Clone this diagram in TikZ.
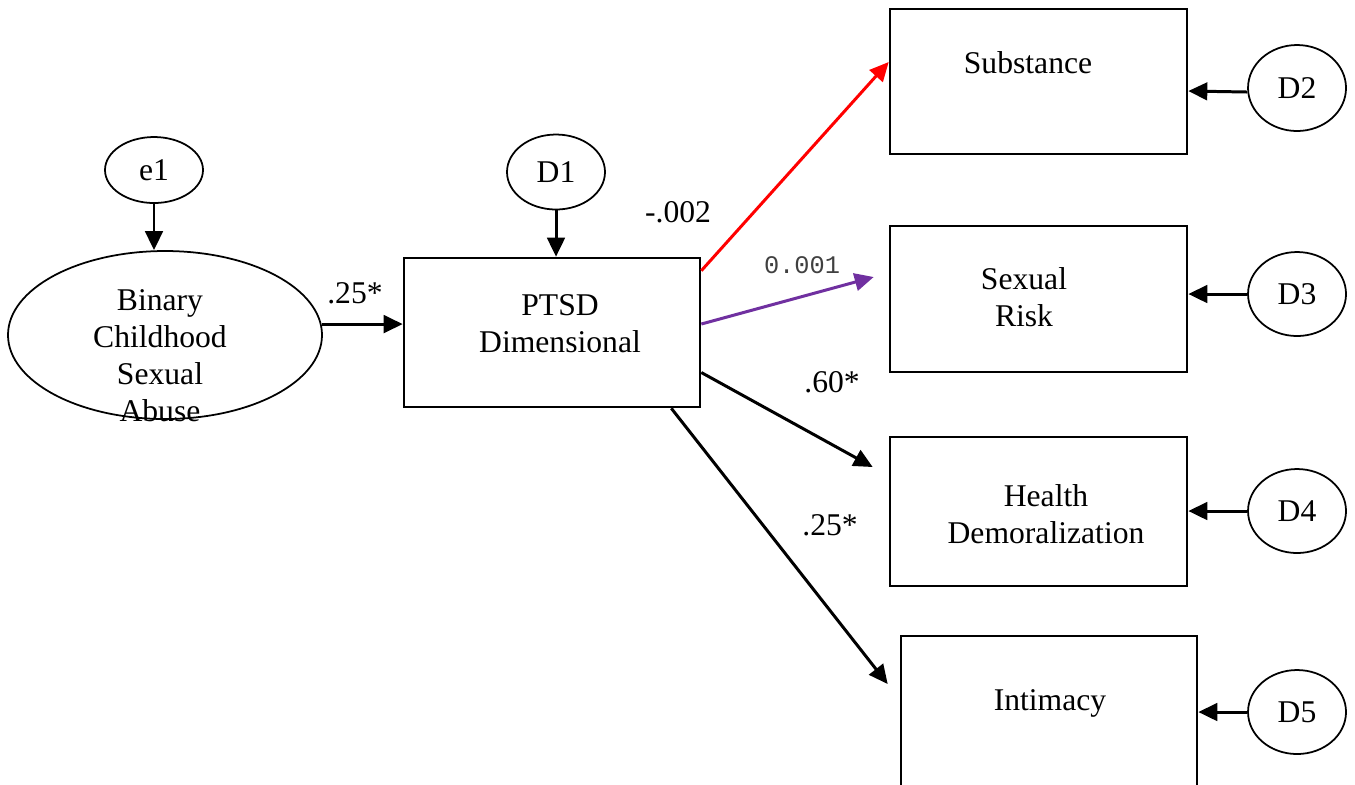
\documentclass[tikz,border=0pt]{standalone}
\usepackage{fontspec}
\setmainfont{Liberation Serif}
\setmonofont{Liberation Mono}
\usetikzlibrary{arrows.meta, shapes.geometric, calc}
\definecolor{cred}{HTML}{FF0000}
\definecolor{cpurple}{HTML}{7030A0}
\definecolor{cgrey}{HTML}{404040}
\tikzset{
  every picture/.style={line width=0.5pt},
  every node/.style={font=\fontsize{9}{10.5}\selectfont},
  box/.style={draw, rectangle, line width=0.75pt, minimum width=2.97cm, minimum height=1.46cm, inner sep=0pt},
  resid/.style={draw, ellipse, minimum width=0.98cm, minimum height=0.84cm, inner sep=0pt},
  arrow/.style={-{Triangle[length=5.4pt, width=5pt]}, line width=0.85pt},
  txt/.style={align=center, inner sep=0pt},
  coef/.style={inner sep=0pt},
}

\begin{document}
\begin{tikzpicture}
  \useasboundingbox (0,0) rectangle (13.55,-7.84);
  % predictor and mediator
  \node[draw, ellipse, minimum width=3.14cm, minimum height=1.68cm, inner sep=0pt] (csa) at (1.65,-3.35) {};
  \node[txt] (csat) at (1.60,-3.56) {Binary\\Childhood\\Sexual\\Abuse};
  \node[resid, minimum height=0.66cm] (e1) at (1.54,-1.70) {e1};
  \node[box, minimum width=2.96cm, minimum height=1.49cm] (ptsd) at (5.52,-3.325) {};
  \node[txt] (ptsdt) at (5.60,-3.24) {PTSD\\Dimensional};
  \node[resid, minimum height=0.75cm] (d1) at (5.56,-1.72) {D1};
  % the four outcomes, each with its disturbance
  \node[box, minimum height=1.45cm] (sub) at (10.385,-0.815) {};
  \node[txt] (subt) at (10.28,-0.63) {Substance};
  \node[box] (risk) at (10.385,-2.99) {};
  \node[txt] (riskt) at (10.24,-2.97) {Sexual\\Risk};
  \node[box, minimum height=1.49cm] (health) at (10.385,-5.115) {};
  \node[txt] (healtht) at (10.46,-5.14) {Health\\Demoralization};
  \node[box, minimum width=2.96cm, minimum height=1.54cm] (intim) at (10.49,-7.13) {};
  \node[txt] (intimt) at (10.50,-7.03) {Intimacy};
  \node[resid, minimum height=0.86cm] (d2) at (12.97,-0.88) {D2};
  \node[resid] (d3) at (12.97,-2.94) {D3};
  \node[resid] (d4) at (12.97,-5.11) {D4};
  \node[resid] (d5) at (12.97,-7.12) {D5};
  % paths
  \draw[arrow] (e1.south) -- (e1.south |- csa.north);
  \draw[arrow] (d1.south) -- (d1.south |- ptsd.north);
  \draw[arrow] (csa.4) -- (csa.4 -| ptsd.west);
  \node[coef] (b1) at (3.55,-2.93) {.25*};
  \draw[arrow, cred] ($(ptsd.north east)+(0,-0.14)$) -- ($(sub.west)+(0,0.195)$);
  \node[coef] (b2) at (6.78,-2.12) {-.002};
  \draw[arrow, cpurple] ($(ptsd.east)+(0,0.085)$) -- ($(risk.west)+(-0.15,0.22)$);
  \node[coef, font=\ttfamily\fontsize{7.2}{8}\selectfont, text=cgrey] (b3) at (8.02,-2.65) {0.001};
  \draw[arrow] ($(ptsd.east)+(0,-0.40)$) -- ($(health.west)+(-0.16,0.445)$);
  \node[coef] (b4) at (8.32,-3.82) {.60*};
  \draw[arrow] ($(ptsd.south east)+(-0.30,0)$) -- ($(intim.west)+(-0.12,0.29)$);
  \node[coef] (b5) at (8.30,-5.25) {.25*};
  \draw[arrow] ($(d2.west)+(0,-0.04)$) -- ($(d2.west -| sub.east)+(0,-0.03)$);
  \foreach \d/\o in {d3/risk, d4/health, d5/intim}
    \draw[arrow] (\d.west) -- (\d.west -| \o.east);
\end{tikzpicture}
\end{document}
